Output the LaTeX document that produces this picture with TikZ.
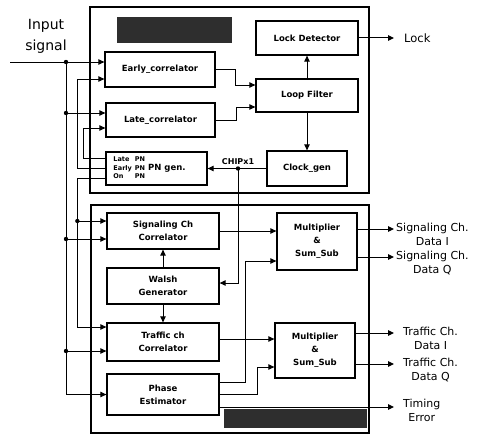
\documentclass[tikz,border=0pt]{standalone}
\usepackage{fontspec}
\setmainfont{DejaVu Sans}
\usetikzlibrary{arrows.meta,positioning}

\begin{document}
\begin{tikzpicture}[
    x=1pt, y=-1pt,
    font=\bfseries\fontsize{8.5}{13}\selectfont,
    blk/.style={draw, line width=1.3pt, align=center, inner sep=1pt},
    panel/.style={draw, line width=1.6pt},
    smudge/.style={fill=black!82},
    wire/.style={line width=1pt},
    arrow/.style={wire, -{Triangle[length=6pt, width=5.5pt]}},
    outlbl/.style={font=\fontsize{11}{14}\selectfont, align=center, inner sep=0pt},
    junc/.style={fill=black}
]
\useasboundingbox (0,0) rectangle (478,436);

% panels and their blurred titles
\draw[panel] (90,7) rectangle (369,193);
\draw[panel] (91,205) rectangle (369,433);
\fill[smudge] (117,17) rectangle (232,43);
\fill[smudge] (224,409) rectangle (367,428);

% tracking loop
\node[blk, minimum width=110pt, minimum height=35pt] (early) at (160,69.5) {Early\_correlator};
\node[blk, minimum width=109pt, minimum height=34pt] (late) at (160.5,120) {Late\_correlator};
\node[blk, minimum width=101pt, minimum height=33pt] (pngen) at (156.5,168.5) {{\fontsize{6.5}{8.5}\selectfont
  \begin{tabular}{@{}l@{\hspace{3pt}}l@{\hspace{3pt}}l@{\hspace{14pt}}}
  Late & PN & \\
  Early & PN & {\fontsize{8.5}{8.5}\selectfont PN gen.}\\
  On & PN &
  \end{tabular}}};
\node[blk, minimum width=102pt, minimum height=34pt] (lockdet) at (307,38) {Lock Detector};
\node[blk, minimum width=102pt, minimum height=33pt] (loopf) at (307,95.5) {Loop Filter};
\node[blk, minimum width=80pt, minimum height=35pt] (clockgen) at (307,168.5) {Clock\_gen};

% demodulator
\node[blk, minimum width=112pt, minimum height=36pt] (sigcorr) at (163,231) {Signaling Ch\\Correlator};
\node[blk, minimum width=112pt, minimum height=36pt] (walsh) at (163,286) {Walsh\\Generator};
\node[blk, minimum width=112pt, minimum height=38pt] (trafcorr) at (163,342) {Traffic ch\\Correlator};
\node[blk, minimum width=112pt, minimum height=41pt] (phase) at (163,394.5) {Phase\\Estimator};
\node[blk, minimum width=80pt, minimum height=57pt] (sigmult) at (317,241.5) {Multiplier\\\&\\Sum\_Sub};
\node[blk, minimum width=80pt, minimum height=55pt] (trafmult) at (315,350.5) {Multiplier\\\&\\Sum\_Sub};

% ports
\coordinate (early-a) at ([yshift=7.5pt]early.west);
\coordinate (early-b) at ([yshift=-9.5pt]early.west);
\coordinate (late-a) at ([yshift=7pt]late.west);
\coordinate (late-b) at ([yshift=-8pt]late.west);
\coordinate (pn-late) at ([yshift=10.5pt]pngen.west);
\coordinate (pn-early) at (pngen.west);
\coordinate (pn-on) at ([yshift=-9.5pt]pngen.west);
\coordinate (lf-a) at ([yshift=10.5pt]loopf.west);
\coordinate (lf-b) at ([yshift=-11.5pt]loopf.west);
\coordinate (sig-a) at ([yshift=10pt]sigcorr.west);
\coordinate (sig-b) at ([yshift=-8pt]sigcorr.west);
\coordinate (traf-a) at ([yshift=15pt]trafcorr.west);
\coordinate (traf-b) at ([yshift=-9pt]trafcorr.west);
\coordinate (walsh-in) at ([yshift=3pt]walsh.east);
\coordinate (smul-a) at ([yshift=10.5pt]sigmult.west);
\coordinate (smul-b) at ([yshift=-19.5pt]sigmult.west);
\coordinate (tmul-a) at ([yshift=11.5pt]trafmult.west);
\coordinate (tmul-b) at ([yshift=-16.5pt]trafmult.west);
\coordinate (ph-a) at ([yshift=12.5pt]phase.east);
\coordinate (ph-b) at (phase.east);
\coordinate (ph-c) at ([yshift=-12.5pt]phase.east);

% input signal and buses
\coordinate (insig) at (10,62);
\coordinate (busA) at (66,62);
\coordinate (busB) at ([xshift=-28pt]pn-on);
\node[font=\fontsize{14}{21}\selectfont, align=center] (inlbl) at (46,36) {Input\\signal};

\draw[arrow] (insig) -- (early-a);
\draw[arrow] (busA) |- (phase.west);
\draw[arrow] (busA |- late-a) -- (late-a);
\draw[arrow] (busA |- sig-b) -- (sig-b);
\draw[arrow] (busA |- traf-b) -- (traf-b);
\draw[arrow] (pn-late) -- ++(-22,0) |- (late-b);
\draw[arrow] (pn-early) -- ++(-28,0) |- (early-b);
\draw[arrow] (pn-on) -- (busB) |- (traf-a);
\draw[arrow] (busB |- sig-a) -- (sig-a);

% loop connections
\draw[arrow] (early.east) -- ++(20,0) |- (lf-a);
\draw[arrow] (late.east) -- ++(21,0) |- (lf-b);
\draw[arrow] (loopf.north) -- (lockdet.south);
\draw[arrow] (loopf.south) -- (clockgen.north);
\draw[arrow] (clockgen.west) -- (pngen.east);
\coordinate (chip) at (238,168.5);
\node[above=3pt of chip, inner sep=1pt, font=\bfseries\fontsize{8}{9}\selectfont] (chiplbl) {CHIPx1};
\draw[arrow] (chip) |- (walsh-in);

% demodulator connections
\draw[arrow] (walsh.north) -- (sigcorr.south);
\draw[arrow] (walsh.south) -- (trafcorr.north);
\draw[arrow] (sigcorr.east) -- (smul-a);
\draw[arrow] (tmul-a -| trafcorr.east) -- (tmul-a);
\draw[arrow] (ph-a) -- ++(26,0) |- (smul-b);
\draw[arrow] (ph-b) -- ++(38,0) |- (tmul-b);

% outputs
\coordinate (lockend) at (394,38);
\coordinate (sdi) at (394,229);
\coordinate (sdq) at (394,257);
\coordinate (tdi) at (394,333);
\coordinate (tdq) at (394,364);
\coordinate (terr) at (394,407);
\draw[arrow] (lockdet.east) -- (lockend);
\draw[arrow] ([yshift=12.5pt]sigmult.east) -- (sdi);
\draw[arrow] ([yshift=-15.5pt]sigmult.east) -- (sdq);
\draw[arrow] ([yshift=17.5pt]trafmult.east) -- (tdi);
\draw[arrow] ([yshift=-13.5pt]trafmult.east) -- (tdq);
\draw[arrow] (ph-c) -- (terr);

\node[outlbl, font=\fontsize{11.5}{14}\selectfont, anchor=west] (locklbl) at ([xshift=10pt]lockend) {Lock};
\node[outlbl, anchor=north west] (sdilbl) at ([xshift=2pt, yshift=6.5pt]sdi) {Signaling Ch.\\Data I};
\node[outlbl, anchor=north west] (sdqlbl) at ([xshift=2pt, yshift=6.5pt]sdq) {Signaling Ch.\\Data Q};
\node[outlbl, anchor=north west] (tdilbl) at ([xshift=9pt, yshift=6.5pt]tdi) {Traffic Ch.\\Data I};
\node[outlbl, anchor=north west] (tdqlbl) at ([xshift=9pt, yshift=6.5pt]tdq) {Traffic Ch.\\Data Q};
\node[outlbl, anchor=north west] (terrlbl) at ([xshift=9pt, yshift=8.5pt]terr) {Timing\\Error};

% junctions
\foreach \p in {busA, busA |- late-a, busA |- sig-b, busA |- traf-b, busB |- sig-a, chip}
  \fill[junc] (\p) circle (2.2pt);
\end{tikzpicture}
\end{document}
